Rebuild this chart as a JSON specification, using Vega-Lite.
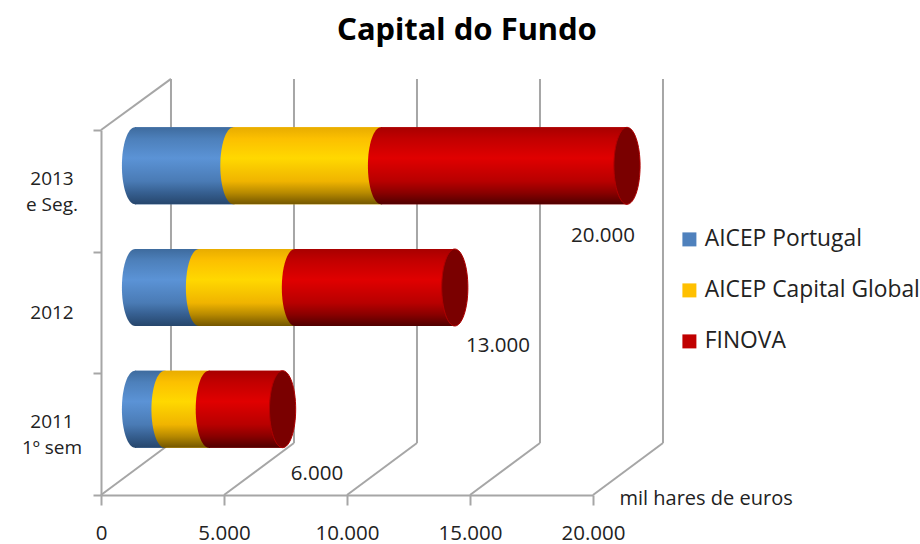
{
"$schema":"https://vega.github.io/schema/vega-lite/v6.json",
"width":492,"height":365,
"autosize":{"type":"none"},
"padding":{"left":101,"top":130,"right":327,"bottom":49},
"background":"white",
"title":{"text":"Capital do Fundo","font":"Noto Sans","fontSize":31,"fontWeight":"bold","color":"#000000","anchor":"middle","dx":120,"offset":31},
"config":{"view":{"stroke":null}},
"datasets":{
"walls":[
{"x0":0,"x1":2845,"d0":0,"d1":0.427},{"x0":2845,"x1":2845,"d0":0.427,"d1":3.42},
{"x0":5000,"x1":7845,"d0":0,"d1":0.427},{"x0":7845,"x1":7845,"d0":0.427,"d1":3.42},
{"x0":10000,"x1":12845,"d0":0,"d1":0.427},{"x0":12845,"x1":12845,"d0":0.427,"d1":3.42},
{"x0":15000,"x1":17845,"d0":0,"d1":0.427},{"x0":17845,"x1":17845,"d0":0.427,"d1":3.42},
{"x0":20000,"x1":22845,"d0":0,"d1":0.427},{"x0":22845,"x1":22845,"d0":0.427,"d1":3.42},
{"x0":0,"x1":2845,"d0":3,"d1":3.42}
],
"segments":[
{"periodo":"2013 e Seg.","depth":2.5,"serie":"AICEP Portugal","start":0,"end":4000},
{"periodo":"2013 e Seg.","depth":2.5,"serie":"AICEP Capital Global","start":4000,"end":10000},
{"periodo":"2013 e Seg.","depth":2.5,"serie":"FINOVA","start":10000,"end":20000},
{"periodo":"2012","depth":1.5,"serie":"AICEP Portugal","start":0,"end":2600},
{"periodo":"2012","depth":1.5,"serie":"AICEP Capital Global","start":2600,"end":6500},
{"periodo":"2012","depth":1.5,"serie":"FINOVA","start":6500,"end":13000},
{"periodo":"2011 1º sem","depth":0.5,"serie":"AICEP Portugal","start":0,"end":1200},
{"periodo":"2011 1º sem","depth":0.5,"serie":"AICEP Capital Global","start":1200,"end":3000},
{"periodo":"2011 1º sem","depth":0.5,"serie":"FINOVA","start":3000,"end":6000}
],
"totals":[
{"periodo":"2013 e Seg.","depth":2.5,"total":20000,"rotulo":"20.000","labelX":20407,"labelD":2.13},
{"periodo":"2012","depth":1.5,"total":13000,"rotulo":"13.000","labelX":16138,"labelD":1.228},
{"periodo":"2011 1º sem","depth":0.5,"total":6000,"rotulo":"6.000","labelX":8780,"labelD":0.173}
],
"categorias":[
{"nome":"2013\ne Seg.","depth":2.6,"pos":-1992},
{"nome":"2012","depth":1.5,"pos":-1992},
{"nome":"2011\n1º sem","depth":0.6,"pos":-1992}
]
},
"layer":[
{"data":{"name":"walls"},
 "mark":{"type":"rule","stroke":"#a6a6a6","strokeWidth":2,"clip":false},
 "encoding":{
  "x":{"field":"x0","type":"quantitative","scale":{"domain":[0,20000],"nice":false,"zero":false},
   "axis":{"values":[0,5000,10000,15000,20000],"grid":false,"domainColor":"#a6a6a6","domainWidth":2,"tickColor":"#a6a6a6","tickWidth":2,"tickSize":10,"labelFont":"Open Sans","labelFontSize":20.5,"labelColor":"#222222","labelPadding":18,"labelFlush":false,"labelExpr":"replace(format(datum.value,','),',','.')","labelOverlap":false,
    "title":"mil hares de euros","titleFont":"Open Sans","titleFontSize":20,"titleFontWeight":"normal","titleColor":"#222222","titleAlign":"left","titleX":518,"titleY":3,"titleBaseline":"middle","titleAnchor":"start"}},
  "x2":{"field":"x1"},
  "y":{"field":"d0","type":"quantitative","scale":{"domain":[0,3],"nice":false,"zero":false,"padding":0},
   "axis":{"values":[0,1,2,3],"grid":false,"labels":false,"title":null,"domainColor":"#a6a6a6","domainWidth":2,"tickColor":"#a6a6a6","tickWidth":2,"tickSize":8}},
  "y2":{"field":"d1"}
 }},
{"data":{"name":"categorias"},
 "mark":{"type":"text","font":"Open Sans","fontSize":19,"color":"#222222","lineBreak":"\n","align":"center","baseline":"middle","lineHeight":26},
 "encoding":{"x":{"field":"pos","type":"quantitative"},"y":{"field":"depth","type":"quantitative"},"text":{"field":"nome"}}},
{"data":{"name":"segments"},
 "mark":{"type":"bar","orient":"horizontal","size":77,"xOffset":34,"x2Offset":34,"yOffset":-25},
 "encoding":{
  "x":{"field":"start","type":"quantitative"},"x2":{"field":"end"},
  "y":{"field":"depth","type":"quantitative"},
  "color":{"field":"serie","type":"nominal","scale":{"domain":["AICEP Portugal","AICEP Capital Global","FINOVA"],"range":["#4f81bd","#ffc000","#c00000"]},
   "legend":{"title":null,"orient":"none","legendX":577,"legendY":98,"symbolType":"square","symbolSize":196,"symbolStrokeWidth":0,"labelFont":"Open Sans","labelFontSize":22.8,"labelColor":"#222222","labelLimit":300,"rowPadding":27,"labelOffset":4,"padding":0}}
 }},
{"data":{"name":"segments"},"transform":[{"filter":"datum.serie==='AICEP Portugal'"}],
 "mark":{"type":"bar","orient":"horizontal","size":77,"xOffset":34,"x2Offset":34,"yOffset":-25,
  "fill":{"gradient":"linear","x1":0,"y1":0,"x2":0,"y2":1,"stops":[{"offset":0,"color":"#3e6b9e"},{"offset":0.15,"color":"#4d80bb"},{"offset":0.4,"color":"#5b93d6"},{"offset":0.7,"color":"#4a7bb5"},{"offset":0.85,"color":"#365f90"},{"offset":1,"color":"#26466c"}]}},
 "encoding":{"x":{"field":"start","type":"quantitative"},"x2":{"field":"end"},"y":{"field":"depth","type":"quantitative"}}},
{"data":{"name":"segments"},"transform":[{"filter":"datum.serie==='AICEP Portugal'"}],
 "mark":{"type":"point","shape":"M0.03,-1L0,-1A0.34,1 0 0,0 0,1L0.03,1Z","filled":true,"opacity":1,"size":5929,"xOffset":34,"yOffset":-25,
  "fill":{"gradient":"linear","x1":0,"y1":0,"x2":0,"y2":1,"stops":[{"offset":0,"color":"#3e6b9e"},{"offset":0.15,"color":"#4d80bb"},{"offset":0.4,"color":"#5b93d6"},{"offset":0.7,"color":"#4a7bb5"},{"offset":0.85,"color":"#365f90"},{"offset":1,"color":"#26466c"}]}},
 "encoding":{"x":{"field":"start","type":"quantitative"},"y":{"field":"depth","type":"quantitative"}}},
{"data":{"name":"segments"},"transform":[{"filter":"datum.serie==='AICEP Capital Global'"}],
 "mark":{"type":"bar","orient":"horizontal","size":77,"xOffset":34,"x2Offset":34,"yOffset":-25,
  "fill":{"gradient":"linear","x1":0,"y1":0,"x2":0,"y2":1,"stops":[{"offset":0,"color":"#e8ac00"},{"offset":0.15,"color":"#fcc000"},{"offset":0.4,"color":"#ffd800"},{"offset":0.7,"color":"#f0b400"},{"offset":0.85,"color":"#b88a00"},{"offset":1,"color":"#735600"}]}},
 "encoding":{"x":{"field":"start","type":"quantitative"},"x2":{"field":"end"},"y":{"field":"depth","type":"quantitative"}}},
{"data":{"name":"segments"},"transform":[{"filter":"datum.serie==='AICEP Capital Global'"}],
 "mark":{"type":"point","shape":"M0.03,-1L0,-1A0.34,1 0 0,0 0,1L0.03,1Z","filled":true,"opacity":1,"size":5929,"xOffset":34,"yOffset":-25,
  "fill":{"gradient":"linear","x1":0,"y1":0,"x2":0,"y2":1,"stops":[{"offset":0,"color":"#e8ac00"},{"offset":0.15,"color":"#fcc000"},{"offset":0.4,"color":"#ffd800"},{"offset":0.7,"color":"#f0b400"},{"offset":0.85,"color":"#b88a00"},{"offset":1,"color":"#735600"}]}},
 "encoding":{"x":{"field":"start","type":"quantitative"},"y":{"field":"depth","type":"quantitative"}}},
{"data":{"name":"segments"},"transform":[{"filter":"datum.serie==='FINOVA'"}],
 "mark":{"type":"bar","orient":"horizontal","size":77,"xOffset":34,"x2Offset":34,"yOffset":-25,
  "fill":{"gradient":"linear","x1":0,"y1":0,"x2":0,"y2":1,"stops":[{"offset":0,"color":"#a80000"},{"offset":0.15,"color":"#c20000"},{"offset":0.4,"color":"#e00000"},{"offset":0.7,"color":"#b80000"},{"offset":0.85,"color":"#8a0000"},{"offset":1,"color":"#500000"}]}},
 "encoding":{"x":{"field":"start","type":"quantitative"},"x2":{"field":"end"},"y":{"field":"depth","type":"quantitative"}}},
{"data":{"name":"segments"},"transform":[{"filter":"datum.serie==='FINOVA'"}],
 "mark":{"type":"point","shape":"M0.03,-1L0,-1A0.34,1 0 0,0 0,1L0.03,1Z","filled":true,"opacity":1,"size":5929,"xOffset":34,"yOffset":-25,
  "fill":{"gradient":"linear","x1":0,"y1":0,"x2":0,"y2":1,"stops":[{"offset":0,"color":"#a80000"},{"offset":0.15,"color":"#c20000"},{"offset":0.4,"color":"#e00000"},{"offset":0.7,"color":"#b80000"},{"offset":0.85,"color":"#8a0000"},{"offset":1,"color":"#500000"}]}},
 "encoding":{"x":{"field":"start","type":"quantitative"},"y":{"field":"depth","type":"quantitative"}}},
{"data":{"name":"totals"},
 "mark":{"type":"point","shape":"M0,-1A0.34,1 0 0,1 0,1A0.34,1 0 0,1 0,-1Z","filled":true,"fill":"#7a0000","stroke":"#b00000","strokeWidth":1,"opacity":1,"size":5929,"xOffset":34,"yOffset":-25},
 "encoding":{"x":{"field":"total","type":"quantitative"},"y":{"field":"depth","type":"quantitative"}}},
{"data":{"name":"totals"},
 "mark":{"type":"text","font":"Open Sans","fontSize":20.5,"color":"#222222","align":"center","baseline":"middle"},
 "encoding":{"x":{"field":"labelX","type":"quantitative"},"y":{"field":"labelD","type":"quantitative"},"text":{"field":"rotulo"}}}
]
}
